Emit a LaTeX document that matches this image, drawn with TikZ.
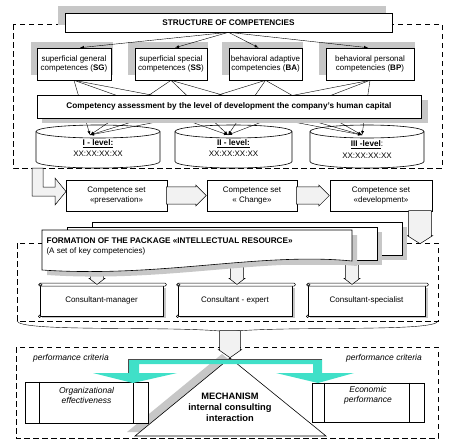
\documentclass[tikz,border=0pt]{standalone}
\usepackage{fontspec}
\setmainfont{Liberation Sans}
\usetikzlibrary{arrows,calc,shapes.arrows}
\definecolor{aqua}{RGB}{64,224,200}
\tikzset{bx/.style={draw,fill=white,line width=0.6pt,align=center,inner sep=1pt,font=\fontsize{8}{9.4}\selectfont}}
\tikzset{pg/.style={draw,fill=white,line width=0.6pt}}
\tikzset{sh/.style={fill=black!22}}
\tikzset{dsh/.style={line width=0.9pt,dash pattern=on 5.5pt off 3.5pt}}
\tikzset{blk/.style={single arrow,draw,fill=black!5,line width=0.5pt,inner xsep=0pt,single arrow head extend=1pt}}
\tikzset{hd/.style={font=\bfseries\fontsize{8.2}{9.4}\selectfont}}
\tikzset{sm/.style={font=\fontsize{8}{9.4}\selectfont}}
\tikzset{it/.style={font=\itshape\fontsize{8.5}{10}\selectfont,align=center}}

\begin{document}
\begin{tikzpicture}[x=1pt,y=-1pt]
\useasboundingbox (0,0) rectangle (452,447);

\draw[dsh] (13,24) rectangle (442,168);
\fill[sh] (58,6) rectangle (386,25);
\node[bx,hd,minimum width=327pt,minimum height=19pt] (soc) at (228.5,22.5) {STRUCTURE OF COMPETENCIES};

\fill[sh] (31,42) rectangle (113,75);
\fill[sh] (128,42) rectangle (208,75);
\fill[sh] (222,42) rectangle (303,75);
\fill[sh] (319,42) rectangle (415,75);
\node[bx,minimum width=74pt,minimum height=32pt] (sg) at (74,64) {superficial general\\competences (\textbf{SG})};
\node[bx,minimum width=72pt,minimum height=32pt] (ss) at (171,64) {superficial special\\competences (\textbf{SS})};
\node[bx,minimum width=73pt,minimum height=32pt] (ba) at (265.5,64) {behavioral adaptive\\competencies (\textbf{BA})};
\node[bx,minimum width=88pt,minimum height=32pt] (bp) at (370,64) {behavioral personal\\competencies (\textbf{BP})};
\foreach \n/\d in {sg/6,ss/4,ba/-7,bp/-2}
  \draw[-latex] (soc.south) -- ([xshift=\d pt]\n.north);

\foreach \i/\x/\r in {1/98/62,2/233.5/58.5,3/367/57} {
  \draw[pg] (\x-\r,131.5) -- (\x-\r,161.5) arc[start angle=180,end angle=0,x radius=\r,y radius=6.5] -- (\x+\r,131.5);
  \draw[pg] (\x,131.5) ellipse[x radius=\r,y radius=6.5];
}
\node[hd] (lv1) at (98,143.5) {\underline{I - level:}};
\node[hd] (lv2) at (233.5,143.5) {\underline{II - level:}};
\node[hd] (lv3) at (367,145) {\underline{III -level}\mdseries:};
\node[sm] (xx1) at (98,154) {XX:XX:XX:XX};
\node[sm] (xx2) at (233.5,154) {XX:XX:XX:XX};
\node[sm] (xx3) at (367,155.5) {XX:XX:XX:XX};
\coordinate (l1) at (90,135);
\coordinate (l2) at (228,135);
\coordinate (l3) at (362,135);
\foreach \a in {sg,ss,ba,bp}
  \foreach \c in {l1,l2,l3}
    \draw[-latex] (\a.south) -- (\c);

\fill[sh] (42,100) rectangle (428,123);
\node[bx,hd,minimum width=384pt,minimum height=23pt] (ca) at (229,106.5) {Competency assessment by the level of development the company's human capital};

\draw[draw,fill=black!5,line width=0.5pt] (32,168) -- (43,168) -- (43,187) -- (55,187) -- (55,178) -- (66,191.5) -- (55,205) -- (55,196) -- (32,196) -- cycle;
\node[bx,minimum width=101pt,minimum height=31pt] (cp) at (116.5,195.5) {Competence set\\«preservation»};
\node[bx,minimum width=90pt,minimum height=31pt] (cc) at (252,195.5) {Competence set\\« Change»};
\node[bx,minimum width=102pt,minimum height=31pt] (cd) at (381,195.5) {Competence set\\«development»};
\node[blk,minimum height=40pt,minimum width=21pt,inner ysep=4.5pt,anchor=tip] (a1) at (cc.west) {};
\node[blk,minimum height=33pt,minimum width=21pt,inner ysep=4.5pt,anchor=tip] (a2) at (cd.west) {};

\draw[dsh] (17,243) rectangle (438,321);
\coordinate (d2) at (420,244);
\node[blk,rotate=-90,minimum height=33pt,minimum width=25pt,inner ysep=10pt,single arrow tip angle=115,anchor=tip] (a3) at (d2) {};

\node[bx,minimum width=123pt,minimum height=31pt] (cm) at (101.5,300.5) {Consultant-manager};
\node[bx,minimum width=114pt,minimum height=31pt] (ce) at (235,300.5) {Consultant - expert};
\node[bx,minimum width=117pt,minimum height=31pt] (cs) at (366.5,300.5) {Consultant-specialist};
\foreach \n in {cm,ce,cs} {
  \fill[sh] ($(\n.north east)+(0.3,3)$) rectangle ($(\n.south east)+(2.3,2)$);
  \fill[sh] ($(\n.south west)+(2,0.3)$) rectangle ($(\n.south east)+(2.3,2)$);
  \draw[pg,line width=0.5pt,rounded corners=1.2pt] ($(\n.north west)+(-1,-1.5)$) rectangle ($(\n.north east)+(3,1.5)$);
  \draw[pg,line width=0.5pt] ($(\n.north west)+(1,0)$) circle (1.3pt);
  \draw[pg,line width=0.5pt] (\n.south west) circle (1.3pt);
}
\foreach \n/\d in {cm/-4.5,ce/2,cs/-14.5}
  \node[blk,rotate=-90,minimum height=24pt,minimum width=16pt,inner ysep=5pt,single arrow tip angle=106,anchor=tip] (t\n) at ([xshift=\d pt]\n.north) {};

\fill[sh] (97,227) rectangle (407,260);
\draw[pg] (92,222) rectangle (402,255);
\fill[sh] (72,232) rectangle (382,265);
\draw[pg] (67,227) rectangle (377,260);
\fill[sh] (47,235) -- (357,235) -- (357,266) .. controls (265,257) and (165,283) .. (47,275) -- cycle;
\draw[pg] (42,230) -- (352,230) -- (352,261) .. controls (260,252) and (160,278) .. (42,270) -- cycle;
\node[hd,anchor=west] (fp) at (43,241) {FORMATION OF THE PACKAGE «INTELLECTUAL RESOURCE»};
\node[sm,anchor=west] (fk) at (43,251) {(A set of key competencies)};

\draw[line width=0.4pt] (17,321) .. controls (20,332) and (160,326) .. (220,331) .. controls (226,332) .. (228.5,337) .. controls (231,332) .. (237,331) .. controls (297,326) and (436,332) .. (438,321);

\draw[dsh] (16,347) rectangle (438,438);
\node[it] (pc1) at (71,358) {performance criteria};
\node[it] (pc2) at (384,358) {performance criteria};

\fill[black!22] (222,354) -- (127,432) -- (318,432) -- cycle;
\node[pg,minimum width=123pt,minimum height=41pt] (oe) at (86.5,402.5) {};
\node[pg,minimum width=112pt,minimum height=39pt] (ep) at (368,402.5) {};
\draw[line width=0.6pt] ($(oe.north west)+(15,0)$) -- ($(oe.south west)+(15,0)$);
\draw[line width=0.6pt] ($(oe.north east)+(-15,0)$) -- ($(oe.south east)+(-15,0)$);
\draw[line width=0.6pt] ($(ep.north west)+(13,0)$) -- ($(ep.south west)+(13,0)$);
\draw[line width=0.6pt] ($(ep.north east)+(-15,0)$) -- ($(ep.south east)+(-15,0)$);
\node[it] (oet) at (86.5,395.5) {Organizational\\effectiveness};
\node[it] (ept) at (368,395.5) {Economic\\performance};

\coordinate (ap) at (230,358);
\draw[pg] (ap) -- (135,436) -- (326,436) -- cycle;
\node[align=center,font=\bfseries\fontsize{9.3}{11}\selectfont] (mech) at (230,407) {MECHANISM\\internal consulting\\interaction};
\fill[aqua] (128,359) -- (322,359) -- (322,373) -- (354,373) -- (318,383) -- (276,373) -- (313,373) -- (313,364) -- (139,364) -- (139,373) -- (177,373) -- (133,383) -- (93,373) -- (128,373) -- cycle;
\draw[black!70,line width=0.5pt] (128,373) -- (128,359) -- (322,359);
\node[blk,rotate=-90,minimum height=27pt,minimum width=23pt,inner ysep=8.5pt,single arrow tip angle=110,anchor=tip] (dm) at (ap) {};
\end{tikzpicture}
\end{document}
